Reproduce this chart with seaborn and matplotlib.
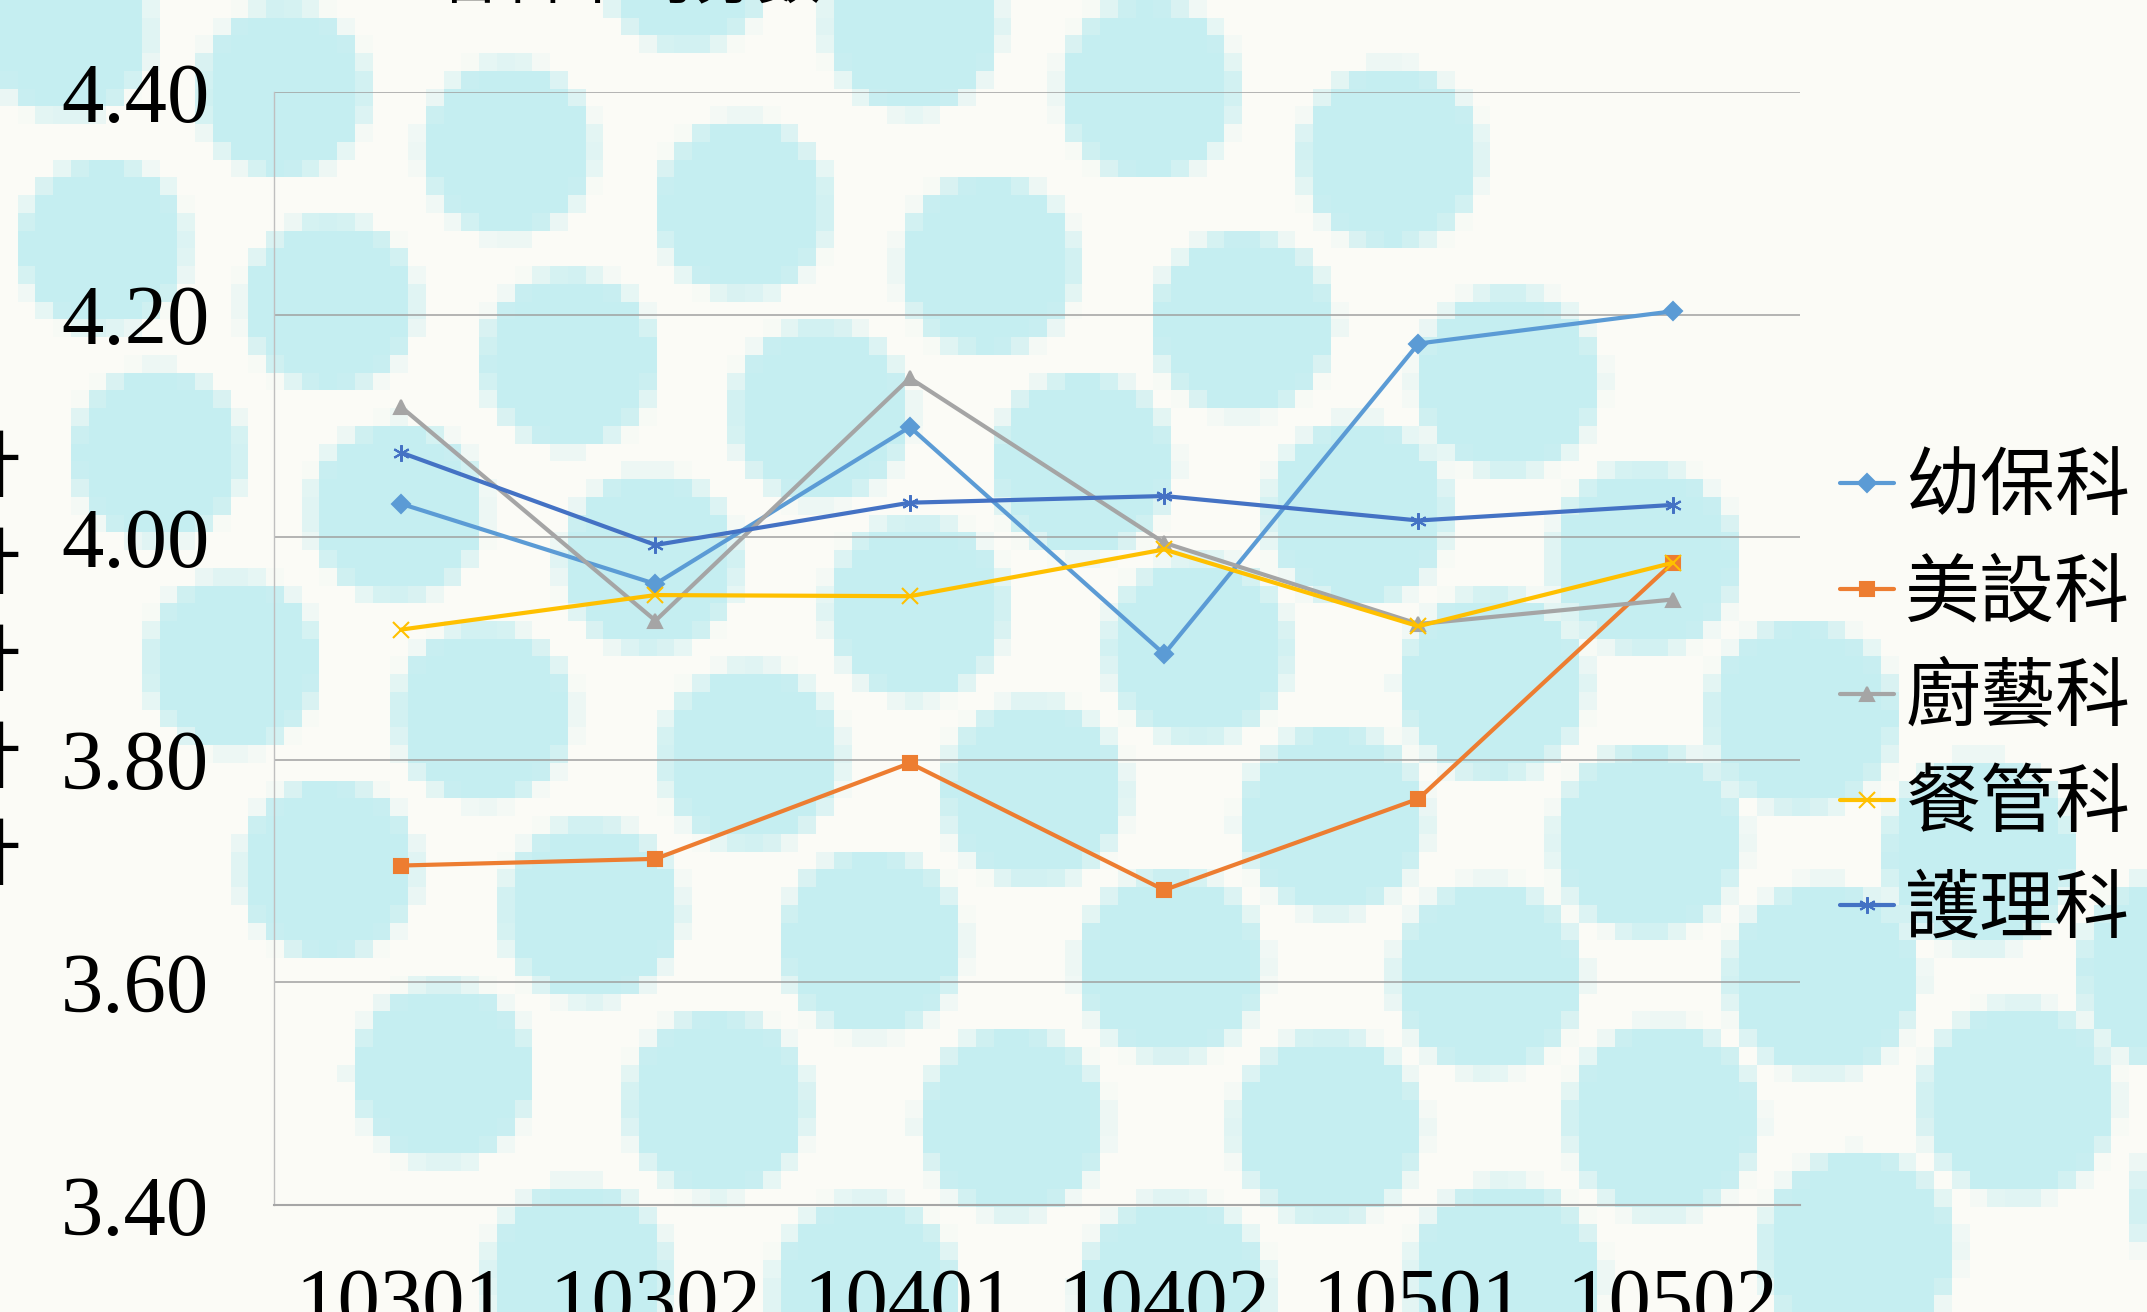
import numpy as np
import pandas as pd
import matplotlib
matplotlib.use("Agg")
import matplotlib.pyplot as plt
from matplotlib.font_manager import FontProperties
import seaborn as sns

# data
semesters = ["10301", "10302", "10401", "10402", "10501", "10502"]
departments = ["幼保科", "美設科", "廚藝科", "餐管科", "護理科"]
preschool = [4.030, 3.958, 4.099, 3.895, 4.174, 4.203]
design = [3.705, 3.711, 3.797, 3.683, 3.765, 3.977]
culinary = [4.117, 3.925, 4.143, 3.995, 3.922, 3.944]
catering = [3.917, 3.948, 3.947, 3.989, 3.920, 3.977]
nursing = [4.076, 3.993, 4.031, 4.037, 4.015, 4.029]
y_ticks = [3.40, 3.60, 3.80, 4.00, 4.20, 4.40]
title = "各科平均分數"
y_label = "計計計計計"

colors = ["#5B9BD5", "#ED7D31", "#A5A5A5", "#FFC000", "#4472C4"]
markers = ["D", "s", "^", "x", (6, 2, 0)]
msizes = [9, 10, 10.5, 11, 12]

rows = []
for dept, vals in zip(departments, [preschool, design, culinary, catering, nursing]):
    for sem, v in zip(semesters, vals):
        rows.append({"dept": dept, "semester": sem, "score": v})
df = pd.DataFrame(rows)

sns.set_style("white")
plt.rcParams["font.family"] = ["Liberation Serif", "Noto Sans CJK TC"]
plt.rcParams["text.color"] = "black"

W, H = 2147, 1312
BG = np.array([251, 251, 246]) / 255
DOT = np.array([197, 238, 241]) / 255

fig = plt.figure(figsize=(W / 100, H / 100), dpi=100, facecolor=BG)

# polka-dot backdrop, pixelated like the original picture
cell = W / 121
nx, ny = 121, int(np.ceil(H / cell))
sub = 4
gx = (np.arange(nx * sub) + 0.5) * cell / sub
gy = (np.arange(ny * sub) + 0.5) * cell / sub
X, Y = np.meshgrid(gx, gy)
mask = np.zeros_like(X, dtype=bool)
for r in range(-1, 7):
    y0 = 33 + 213 * r - r * r + 27 * min(r, 0)
    a, b = 58 + 2 * r - 1.5 * r * r, 2.5 * r
    for c in range(0, 7):
        cx = 68 + 25 * r + 10 * r * r + (215 + 12 * r) * c + (5 + r) * c * (c - 1)
        cy = y0 + a * c - b * c * (c - 1) / 2
        rad = 84 + 0.0045 * (cx + cy)
        mask |= (X - cx) ** 2 + (Y - cy) ** 2 < rad ** 2
cov = mask.reshape(ny, sub, nx, sub).mean(axis=(1, 3))
img = BG + cov[..., None] * (DOT - BG)

bg_ax = fig.add_axes([0, 0, 1, 1], zorder=0)
bg_ax.imshow(img, extent=(0, nx * cell, ny * cell, 0), interpolation="nearest", aspect="auto")
bg_ax.set_xlim(0, W)
bg_ax.set_ylim(H, 0)
bg_ax.axis("off")

ax = fig.add_axes([274 / W, (H - 1205) / H, (1800 - 274) / W, (1205 - 92) / H])
ax.set_zorder(1)
ax.set_facecolor("none")

for dept, color, mk, ms in zip(departments, colors, markers, msizes):
    sns.lineplot(data=df[df["dept"] == dept], x="semester", y="score", ax=ax,
                 color=color, marker=mk, markersize=ms, mec=color, mfc=color,
                 mew=1.5, lw=3.0, label=dept, zorder=3)

ax.set_xlim(-0.5, len(semesters) - 0.5)
ax.set_ylim(y_ticks[0], y_ticks[-1])
ax.set_xlabel("")
ax.set_ylabel("")

ax.set_xticks(np.arange(-0.5, len(semesters), 1))
ax.set_xticklabels([])
ax.set_xticks(np.arange(len(semesters)), minor=True)
ax.set_xticklabels(semesters, minor=True)
ax.tick_params(axis="x", which="major", length=16.5, width=1, color="#A6A6A6", direction="out")
ax.tick_params(axis="x", which="minor", length=0, pad=45, labelsize=61, labelcolor="black")

ax.set_yticks(y_ticks)
ax.set_yticklabels([f"{t:.2f}" for t in y_ticks])
ax.tick_params(axis="y", length=16.5, width=1, color="#A6A6A6", direction="out",
               pad=30, labelsize=61, labelcolor="black")

ax.yaxis.grid(True, color="#A0A0A0", lw=1.1)
ax.xaxis.grid(False)
ax.set_axisbelow(True)
for side in ["top", "right"]:
    ax.spines[side].set_visible(False)
ax.spines["left"].set_color("#BFBFBF")
ax.spines["left"].set_linewidth(1.0)
ax.spines["bottom"].set_color("#A6A6A6")
ax.spines["bottom"].set_linewidth(1.5)

handles, labels = ax.get_legend_handles_labels()
ax.legend(handles, labels, loc="center left", bbox_to_anchor=(1840 / W, 1 - 699 / H),
          bbox_transform=fig.transFigure, frameon=False,
          prop=FontProperties(family="Noto Sans CJK TC", size=54),
          handlelength=0.72, handletextpad=0.15, labelspacing=0.38,
          borderpad=0, borderaxespad=0, numpoints=1)

# title and axis title, both mostly cut off by the edges of the picture
fig.text(630 / W, 1 + 3 / H, title, ha="center", va="baseline", fontsize=46,
         family="Noto Sans CJK TC")
for i, ch in enumerate(y_label):
    fig.text(21 / W, 1 - (470 + 97 * i) / H, ch, ha="right", va="center",
             fontsize=53, family="Noto Sans CJK TC")

fig.savefig("out.png", dpi=100, facecolor=BG)
